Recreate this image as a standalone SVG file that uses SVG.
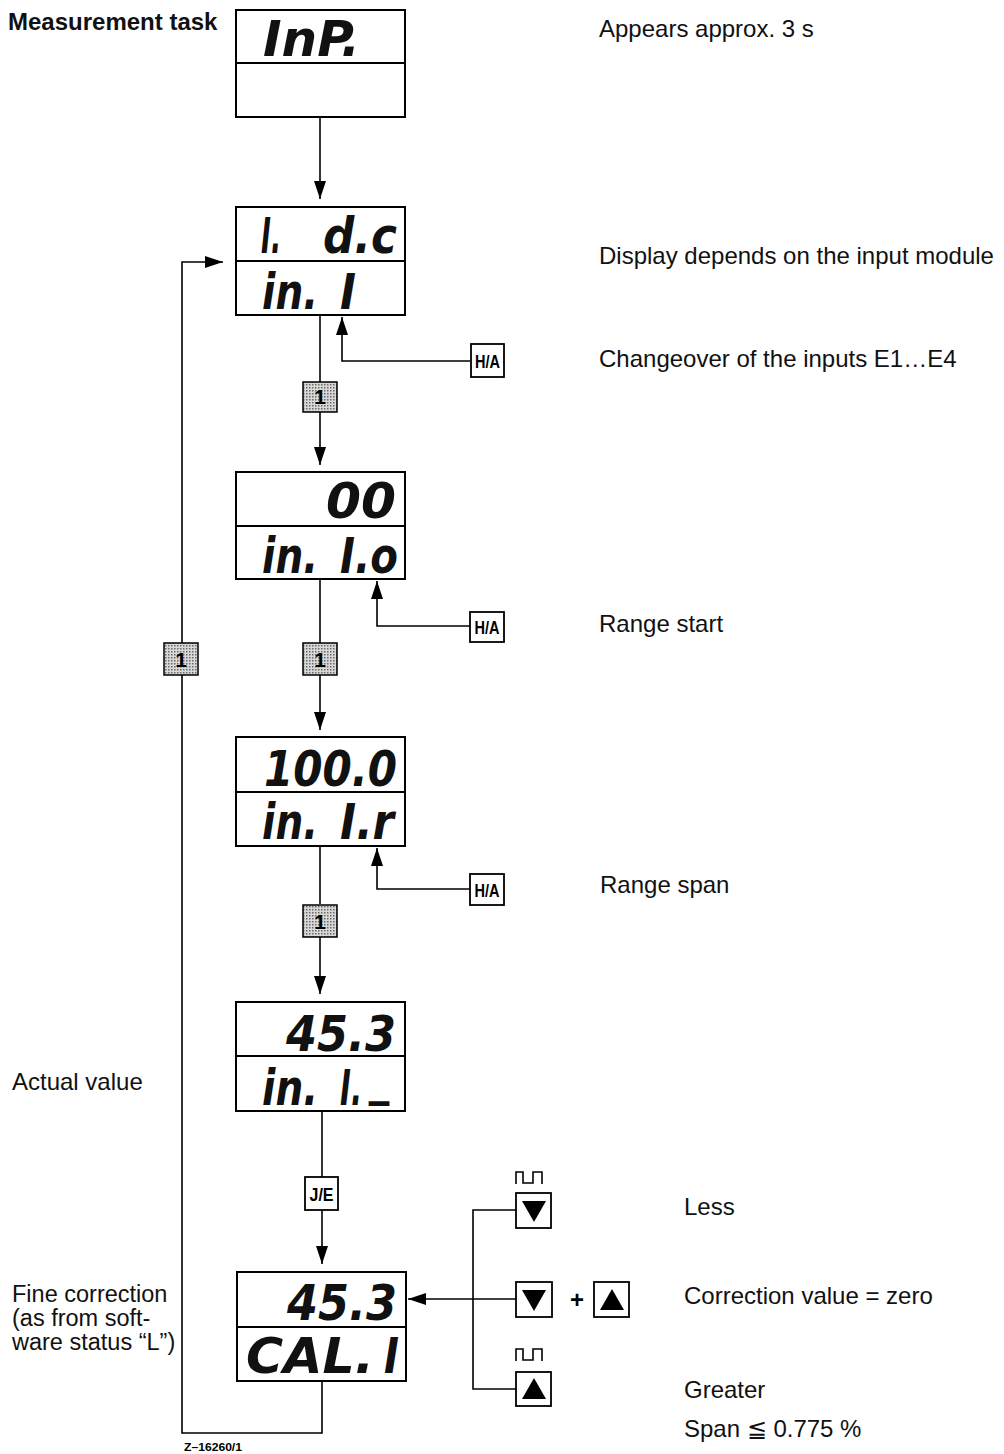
<svg xmlns="http://www.w3.org/2000/svg" width="1004" height="1454" viewBox="0 0 1004 1454">
<defs>
<style>
.lbl{font-family:"Liberation Sans",Arial,sans-serif;font-size:24px;fill:#111}
.lbs{font-family:"Liberation Sans",Arial,sans-serif;font-size:23.5px;fill:#111}
.disp{fill:#fff;stroke:#000;stroke-width:2}
.div{stroke:#000;stroke-width:1.8}
.seg{font-family:"DejaVu Sans",sans-serif;font-style:italic;font-weight:bold;font-size:50px;fill:#111}
.ln{fill:none;stroke:#000;stroke-width:1.6}
.key{fill:#fff;stroke:#000;stroke-width:1.8}
.one{fill:url(#dots);stroke:#000;stroke-width:1.5}
.kt{font-family:"Liberation Sans",Arial,sans-serif;font-weight:bold;font-size:19px;text-anchor:middle;fill:#000}
.arrow{marker-end:url(#ah)}
</style>
<marker id="ah" markerUnits="userSpaceOnUse" markerWidth="18" markerHeight="12" refX="18" refY="6" orient="auto"><path d="M0,0L18,6L0,12z" fill="#000"/></marker>
<pattern id="dots" width="3" height="3" patternUnits="userSpaceOnUse"><rect width="3" height="3" fill="#d8d8d8"/><rect width="1.5" height="1.5" fill="#6a6a6a"/></pattern>
</defs>
<rect width="1004" height="1454" fill="#fff"/>

<g id="connectors">
<path class="ln arrow" d="M320,117V199"/>
<path class="ln arrow" d="M322,1381V1433H182V262H223"/>
<path class="ln" d="M320,315V382"/>
<path class="ln arrow" d="M320,412V465"/>
<path class="ln arrow" d="M470,361H342V317"/>
<path class="ln" d="M320,579V643"/>
<path class="ln arrow" d="M320,675V730"/>
<path class="ln arrow" d="M470,626H377V581"/>
<path class="ln" d="M320,846V904"/>
<path class="ln arrow" d="M320,937V994"/>
<path class="ln arrow" d="M470,889H377V848"/>
<path class="ln" d="M322,1111V1177"/>
<path class="ln arrow" d="M322,1210V1264"/>
<path class="ln arrow" d="M516,1299H408"/>
<path class="ln" d="M516,1210H473V1389H516"/>
</g>

<g id="disp-inp">
<rect class="disp" x="236" y="10" width="169" height="107"/>
<line class="div" x1="236" y1="63" x2="405" y2="63"/>
<text class="seg" x="263" y="56" textLength="97" lengthAdjust="spacingAndGlyphs">InP.</text>
</g>
<g id="disp-idc">
<rect class="disp" x="236" y="207" width="169" height="108"/>
<line class="div" x1="236" y1="261" x2="405" y2="261"/>
<text class="seg" x="261" y="253" textLength="20" lengthAdjust="spacingAndGlyphs">I.</text>
<text class="seg" x="323" y="253" textLength="74" lengthAdjust="spacingAndGlyphs">d.c</text>
<text class="seg" x="262" y="309" textLength="56" lengthAdjust="spacingAndGlyphs">in.</text>
<text class="seg" x="340" y="309" textLength="16" lengthAdjust="spacingAndGlyphs">I</text>
</g>
<g id="disp-inlo">
<rect class="disp" x="236" y="472" width="169" height="107"/>
<line class="div" x1="236" y1="526" x2="405" y2="526"/>
<text class="seg" x="326" y="518" textLength="70" lengthAdjust="spacingAndGlyphs">00</text>
<text class="seg" x="262" y="573" textLength="56" lengthAdjust="spacingAndGlyphs">in.</text>
<text class="seg" x="340" y="573" textLength="58" lengthAdjust="spacingAndGlyphs">I.o</text>
</g>
<g id="disp-inlr">
<rect class="disp" x="236" y="737" width="169" height="109"/>
<line class="div" x1="236" y1="792" x2="405" y2="792"/>
<text class="seg" x="264" y="786" textLength="133" lengthAdjust="spacingAndGlyphs">100.0</text>
<text class="seg" x="262" y="839" textLength="56" lengthAdjust="spacingAndGlyphs">in.</text>
<text class="seg" x="340" y="839" textLength="54" lengthAdjust="spacingAndGlyphs">I.r</text>
</g>
<g id="disp-actual">
<rect class="disp" x="236" y="1002" width="169" height="109"/>
<line class="div" x1="236" y1="1056" x2="405" y2="1056"/>
<text class="seg" x="286" y="1051" textLength="110" lengthAdjust="spacingAndGlyphs">45.3</text>
<text class="seg" x="262" y="1105" textLength="56" lengthAdjust="spacingAndGlyphs">in.</text>
<text class="seg" x="340" y="1105"><tspan textLength="22" lengthAdjust="spacingAndGlyphs">I.</tspan><tspan x="369" dy="-11" textLength="20" lengthAdjust="spacingAndGlyphs">_</tspan></text>
</g>
<g id="disp-cal">
<rect class="disp" x="237" y="1272" width="169" height="109"/>
<line class="div" x1="237" y1="1327" x2="406" y2="1327"/>
<text class="seg" x="287" y="1320" textLength="110" lengthAdjust="spacingAndGlyphs">45.3</text>
<text class="seg" x="246" y="1373" textLength="128" lengthAdjust="spacingAndGlyphs">CAL.</text>
<text class="seg" x="384" y="1373" textLength="15" lengthAdjust="spacingAndGlyphs">I</text>
</g>

<g id="key-ha-1"><rect class="key" x="471" y="344" width="33" height="33"/><text class="kt" x="487.5" y="368" textLength="25" lengthAdjust="spacingAndGlyphs">H/A</text></g>
<g id="key-ha-2"><rect class="key" x="470" y="612" width="34" height="30"/><text class="kt" x="487" y="634" textLength="25" lengthAdjust="spacingAndGlyphs">H/A</text></g>
<g id="key-ha-3"><rect class="key" x="470" y="874" width="34" height="31"/><text class="kt" x="487" y="897" textLength="25" lengthAdjust="spacingAndGlyphs">H/A</text></g>
<g id="key-je"><rect class="key" x="305" y="1177" width="33" height="33"/><text class="kt" x="321.5" y="1201" textLength="24" lengthAdjust="spacingAndGlyphs">J/E</text></g>

<g id="key-1a"><rect class="one" x="303" y="382" width="34" height="30"/><text class="kt" x="320" y="404" style="font-size:21px">1</text></g>
<g id="key-1b"><rect class="one" x="303" y="643" width="34" height="32"/><text class="kt" x="320" y="667" style="font-size:21px">1</text></g>
<g id="key-1c"><rect class="one" x="303" y="905" width="34" height="32"/><text class="kt" x="320" y="929" style="font-size:21px">1</text></g>
<g id="key-1d"><rect class="one" x="164" y="643" width="34" height="32"/><text class="kt" x="181" y="667" style="font-size:21px">1</text></g>

<g id="key-down-less">
<path class="ln" d="M516,1184V1172H523V1183H533V1172H542V1184"/>
<rect class="key" x="516" y="1193" width="35" height="35"/>
<path d="M522,1201H546L534,1222Z" fill="#000"/>
</g>
<g id="key-down-zero">
<rect class="key" x="516" y="1282" width="36" height="35"/>
<path d="M522,1290H546L534,1311Z" fill="#000"/>
</g>
<text class="kt" x="577" y="1308" style="font-size:24px">+</text>
<g id="key-up-zero">
<rect class="key" x="594" y="1282" width="35" height="35"/>
<path d="M600,1310H624L612,1289Z" fill="#000"/>
</g>
<g id="key-up-greater">
<path class="ln" d="M516,1361V1349H523V1360H533V1349H542V1361"/>
<rect class="key" x="516" y="1372" width="35" height="34"/>
<path d="M522,1399H546L534,1378Z" fill="#000"/>
</g>

<g id="labels">
<text class="lbl" x="8" y="30" style="font-weight:bold">Measurement task</text>
<text class="lbl" x="599" y="37">Appears approx. 3 s</text>
<text class="lbl" x="599" y="264">Display depends on the input module</text>
<text class="lbl" x="599" y="367">Changeover of the inputs E1…E4</text>
<text class="lbl" x="599" y="632">Range start</text>
<text class="lbl" x="600" y="893">Range span</text>
<text class="lbl" x="12" y="1090">Actual value</text>
<text class="lbs" x="12" y="1302">Fine correction</text>
<text class="lbs" x="12" y="1326">(as from soft-</text>
<text class="lbs" x="12" y="1350">ware status “L”)</text>
<text class="lbl" x="684" y="1215">Less</text>
<text class="lbl" x="684" y="1304">Correction value = zero</text>
<text class="lbl" x="684" y="1398">Greater</text>
<text class="lbl" x="684" y="1437">Span ≦ 0.775 %</text>
<text x="184" y="1451" style="font-family:'Liberation Sans',Arial,sans-serif;font-weight:bold;font-size:10px" textLength="58" lengthAdjust="spacingAndGlyphs">Z–16260/1</text>
</g>
</svg>
